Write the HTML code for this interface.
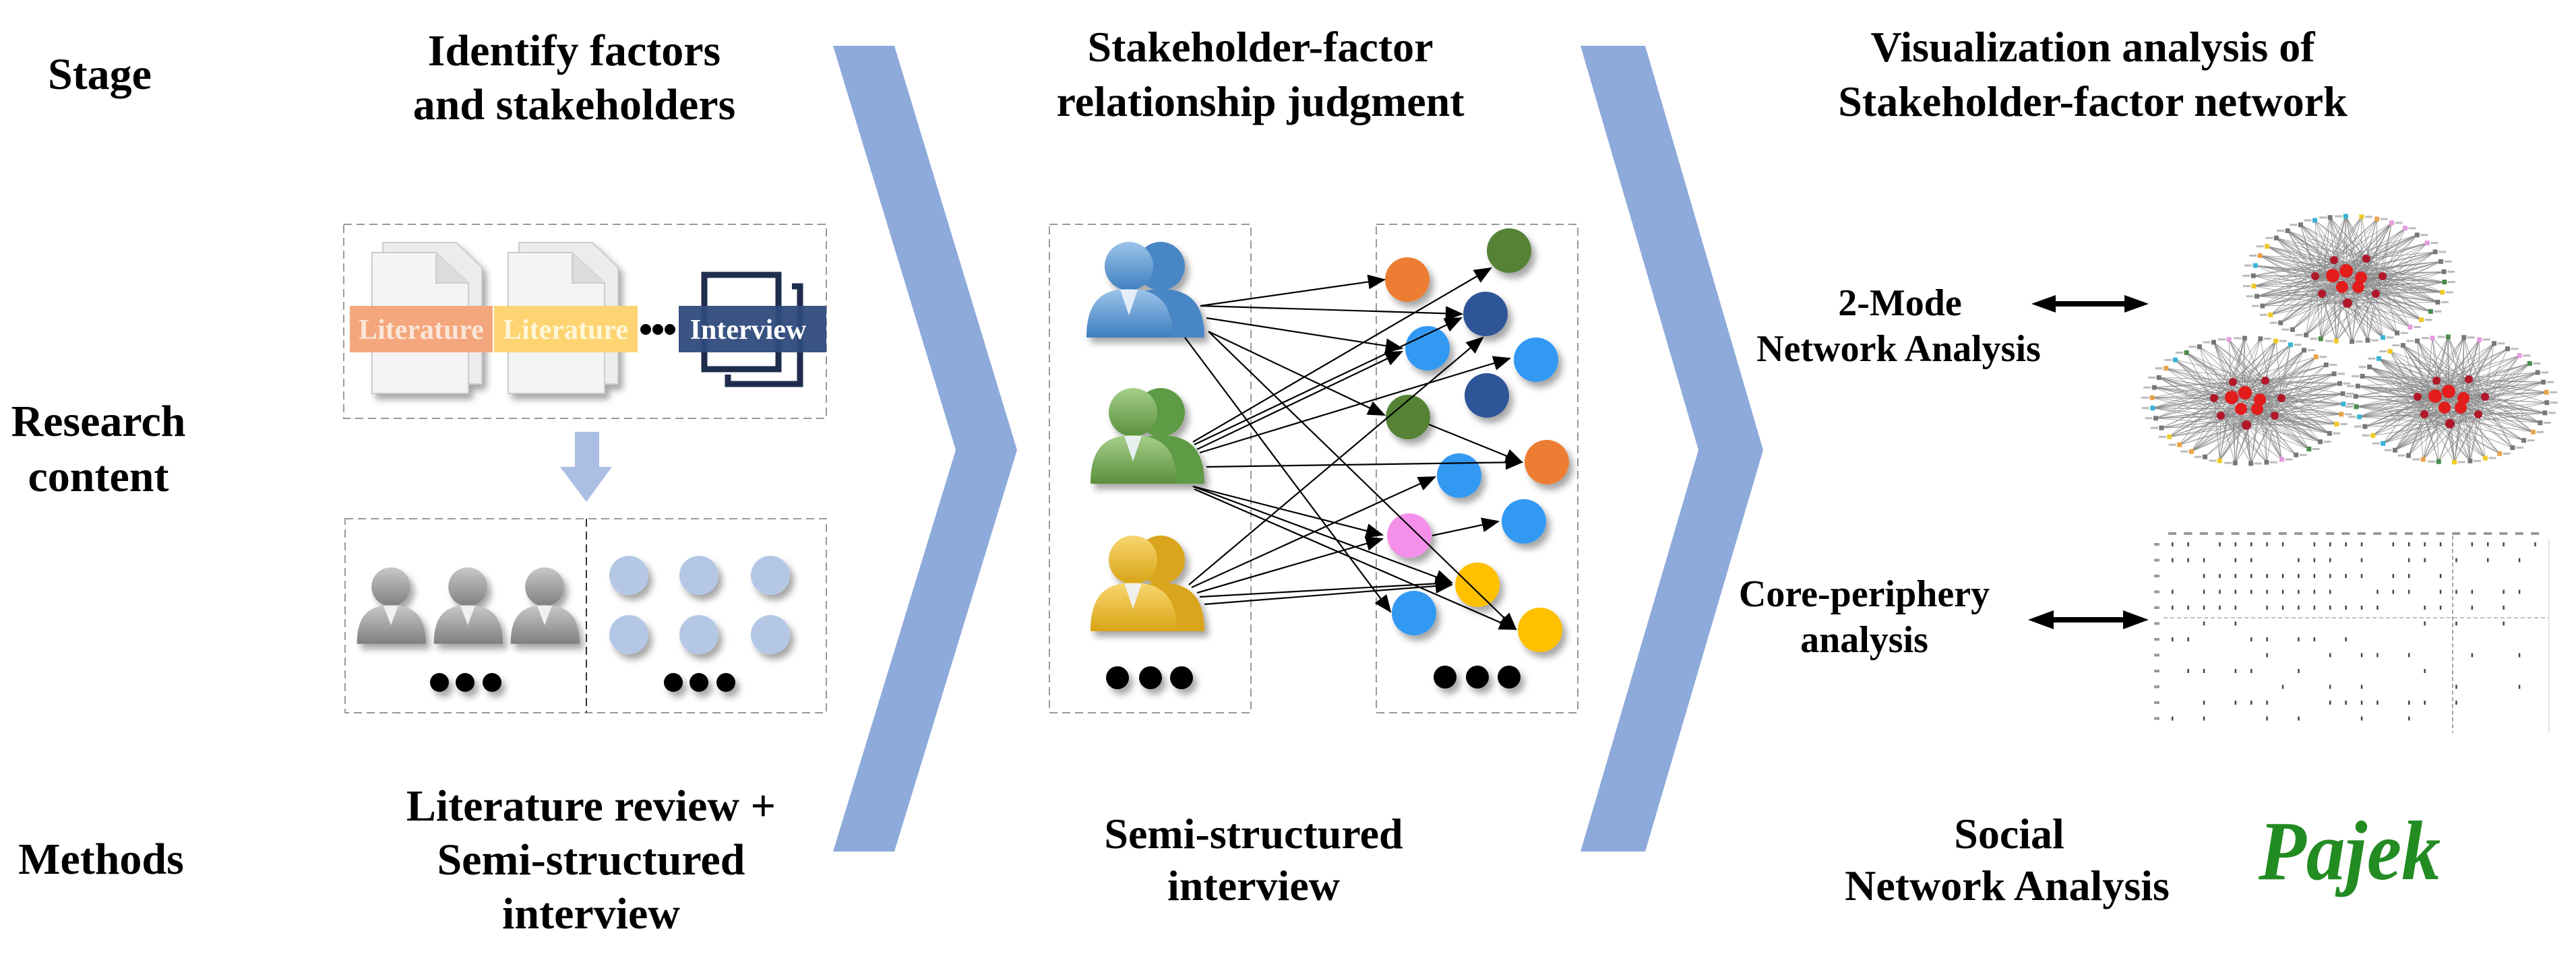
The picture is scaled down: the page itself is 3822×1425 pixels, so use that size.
<!DOCTYPE html>
<html><head><meta charset="utf-8">
<style>
html,body{margin:0;padding:0;background:#fff;}
svg{display:block;}
text{font-family:"Liberation Serif",serif;font-weight:bold;fill:#000;}
</style></head>
<body>
<svg id="s" width="3822" height="1425" viewBox="0 0 3822 1425" xmlns="http://www.w3.org/2000/svg">
<defs>
<marker id="ah" markerWidth="12" markerHeight="10" refX="11" refY="5" orient="auto" markerUnits="strokeWidth">
<path d="M0,0 L12,5 L0,10 Z" fill="#000"/></marker>
<filter id="sh" x="-30%" y="-30%" width="170%" height="170%"><feDropShadow dx="6" dy="8" stdDeviation="5" flood-color="#000" flood-opacity="0.35"/></filter>
<linearGradient id="gb" x1="0" y1="0" x2="0" y2="1"><stop offset="0" stop-color="#9cc3ea"/><stop offset="1" stop-color="#3f7fc0"/></linearGradient>
<linearGradient id="gg" x1="0" y1="0" x2="0" y2="1"><stop offset="0" stop-color="#a6cf8a"/><stop offset="1" stop-color="#5a8f3c"/></linearGradient>
<linearGradient id="gy" x1="0" y1="0" x2="0" y2="1"><stop offset="0" stop-color="#f8d670"/><stop offset="1" stop-color="#d8a414"/></linearGradient>
<linearGradient id="gr" x1="0" y1="0" x2="0" y2="1"><stop offset="0" stop-color="#c8c8c8"/><stop offset="1" stop-color="#808080"/></linearGradient>
<g id="person">
<circle cx="0" cy="0" r="36"/>
<path d="M-63,106 C-63,52 -40,34 0,34 C40,34 65,52 65,106 Z"/>
</g>
</defs>

<polygon points="1236,68 1327,68 1509,668 1327,1264 1236,1264 1418,668" fill="#8eaadb"/>
<polygon points="2345,68 2441,68 2616,668 2441,1264 2345,1264 2520,668" fill="#8eaadb"/>

<text x="148" y="132" font-size="66" text-anchor="middle">Stage</text>
<text x="146" y="647" font-size="66" text-anchor="middle">Research</text>
<text x="146" y="729" font-size="66" text-anchor="middle">content</text>
<text x="150" y="1297" font-size="66" text-anchor="middle">Methods</text>

<text x="852" y="97" font-size="66" text-anchor="middle">Identify factors</text>
<text x="852" y="177" font-size="66" text-anchor="middle">and stakeholders</text>
<text x="1870" y="91" font-size="64" text-anchor="middle">Stakeholder-factor</text>
<text x="1870" y="172" font-size="64" text-anchor="middle">relationship judgment</text>
<text x="3105" y="91" font-size="64" text-anchor="middle">Visualization analysis of</text>
<text x="3105" y="172" font-size="64" text-anchor="middle">Stakeholder-factor network</text>

<text x="877" y="1218" font-size="66" text-anchor="middle">Literature review +</text>
<text x="877" y="1298" font-size="66" text-anchor="middle">Semi-structured</text>
<text x="877" y="1378" font-size="66" text-anchor="middle">interview</text>
<text x="1860" y="1259" font-size="64" text-anchor="middle">Semi-structured</text>
<text x="1860" y="1336" font-size="64" text-anchor="middle">interview</text>

<text x="2819" y="468" font-size="56" text-anchor="middle">2-Mode</text>
<text x="2817" y="536" font-size="56" text-anchor="middle">Network Analysis</text>
<text x="2766" y="900" font-size="56" text-anchor="middle">Core-periphery</text>
<text x="2766" y="968" font-size="56" text-anchor="middle">analysis</text>
<text x="2981" y="1259" font-size="64" text-anchor="middle">Social</text>
<text x="2978" y="1336" font-size="64" text-anchor="middle">Network Analysis</text>
<text x="3486" y="1305" font-size="125" text-anchor="middle" font-style="italic" textLength="270" lengthAdjust="spacingAndGlyphs" style="fill:#228b22;font-family:'Liberation Serif',serif;">Pajek</text>

<g fill="#000">
<rect x="3040" y="447" width="124" height="8"/>
<polygon points="3014,451 3050,438 3050,464"/><polygon points="3188,451 3152,438 3152,464"/>
<rect x="3035" y="916" width="128" height="8"/>
<polygon points="3009,920 3047,906 3047,934"/><polygon points="3188,920 3150,906 3150,934"/>
</g>

<g fill="none" stroke="#999" stroke-width="2" stroke-dasharray="12 7">
<rect x="510" y="333" width="716" height="288"/>
<rect x="512" y="770" width="714" height="288"/>
<line x1="870" y1="770" x2="870" y2="1058" stroke="#333"/>
<rect x="1557" y="333" width="299" height="725"/>
<rect x="2042" y="333" width="299" height="725"/>
</g>
<g filter="url(#sh)">
<g transform="translate(552,375)">
<path d="M16,-15 H125 L163,22 V195 H16 Z" fill="#ececec" stroke="#ccc" stroke-width="2"/>
<path d="M0,0 H95 L143,45 V209 H0 Z" fill="#f4f4f4" stroke="#ccc" stroke-width="2"/>
<path d="M95,0 V45 H143" fill="#dcdcdc" stroke="#ccc" stroke-width="2"/>
</g>
<g transform="translate(754,375)">
<path d="M16,-15 H125 L163,22 V195 H16 Z" fill="#ececec" stroke="#ccc" stroke-width="2"/>
<path d="M0,0 H95 L143,45 V209 H0 Z" fill="#f4f4f4" stroke="#ccc" stroke-width="2"/>
<path d="M95,0 V45 H143" fill="#dcdcdc" stroke="#ccc" stroke-width="2"/>
</g>
</g>
<g fill="none" stroke="#1f2d4d" stroke-width="9">
<rect x="1045" y="408" width="110" height="140"/>
<path d="M1175,425 H1187 V570 H1080 V556"/>
</g>
<rect x="519" y="454" width="212" height="69" fill="#f4a77c"/>
<rect x="733" y="454" width="213" height="69" fill="#fdd471"/>
<rect x="1007" y="454" width="219" height="69" fill="#2e4a7c" opacity="0.95"/>
<text x="625" y="503" font-size="42" text-anchor="middle" style="fill:#fbe6d8">Literature</text>
<text x="839" y="503" font-size="42" text-anchor="middle" style="fill:#fff6d8">Literature</text>
<text x="1110" y="503" font-size="42" text-anchor="middle" style="fill:#fff">Interview</text>
<g fill="#000"><circle cx="958" cy="489" r="8"/><circle cx="976" cy="489" r="8"/><circle cx="994" cy="489" r="8"/></g>

<polygon points="853,641 889,641 889,693 908,693 870,745 831,693 853,693" fill="#aabfe3"/>

<g fill="url(#gr)" filter="url(#sh)">
<use href="#person" transform="translate(580,871) scale(0.8)"/>
<use href="#person" transform="translate(694,871) scale(0.8)"/>
<use href="#person" transform="translate(808,871) scale(0.8)"/>
</g>
<g fill="#f0f0f0"><path d="M569,899 L591,899 L580,928Z"/><path d="M683,899 L705,899 L694,928Z"/><path d="M797,899 L819,899 L808,928Z"/></g>
<g fill="#b4c8e6" filter="url(#sh)">
<circle cx="933" cy="854" r="29"/><circle cx="1037" cy="854" r="29"/><circle cx="1143" cy="854" r="29"/>
<circle cx="933" cy="942" r="29"/><circle cx="1037" cy="942" r="29"/><circle cx="1143" cy="942" r="29"/>
</g>
<g fill="#000" filter="url(#sh)">
<circle cx="652" cy="1013" r="14"/><circle cx="690" cy="1013" r="14"/><circle cx="730" cy="1013" r="14"/>
<circle cx="999" cy="1013" r="14"/><circle cx="1037" cy="1013" r="14"/><circle cx="1077" cy="1013" r="14"/>
<circle cx="1658" cy="1006" r="17"/><circle cx="1707" cy="1006" r="17"/><circle cx="1753" cy="1006" r="17"/>
<circle cx="2144" cy="1005" r="17"/><circle cx="2192" cy="1005" r="17"/><circle cx="2239" cy="1005" r="17"/>
</g>

<g filter="url(#sh)">
<g fill="#4a86c6"><use href="#person" transform="translate(1722,395)"/></g>
<g fill="url(#gb)"><use href="#person" transform="translate(1675,395)"/></g>
<g fill="#5f9a44"><use href="#person" transform="translate(1722,612)"/></g>
<g fill="url(#gg)"><use href="#person" transform="translate(1681,612)"/></g>
<g fill="#d9a51c"><use href="#person" transform="translate(1722,831)"/></g>
<g fill="url(#gy)"><use href="#person" transform="translate(1681,831)"/></g>
</g>
<g fill="#eef4fb" opacity="0.9">
<path d="M1662,430 L1688,430 L1675,468Z"/><path d="M1668,647 L1694,647 L1681,685Z"/><path d="M1668,866 L1694,866 L1681,904Z"/>
</g>

<g filter="url(#sh)">
<circle cx="2088" cy="415" r="33" fill="#ed7d31"/>
<circle cx="2239" cy="372" r="33" fill="#548235"/>
<circle cx="2204" cy="466" r="33" fill="#2f5597"/>
<circle cx="2118" cy="517" r="33" fill="#3399f3"/>
<circle cx="2279" cy="534" r="33" fill="#3399f3"/>
<circle cx="2206" cy="587" r="33" fill="#2f5597"/>
<circle cx="2089" cy="619" r="33" fill="#548235"/>
<circle cx="2295" cy="686" r="33" fill="#ed7d31"/>
<circle cx="2165" cy="706" r="33" fill="#3399f3"/>
<circle cx="2261" cy="774" r="33" fill="#3399f3"/>
<circle cx="2091" cy="795" r="33" fill="#f590ea"/>
<circle cx="2192" cy="868" r="33" fill="#ffc000"/>
<circle cx="2098" cy="910" r="33" fill="#3399f3"/>
<circle cx="2285" cy="935" r="33" fill="#ffc000"/>
</g>

<g stroke="#000" stroke-width="2.2" fill="none" marker-end="url(#ah)">
<line x1="1781" y1="454" x2="2054" y2="415"/>
<line x1="1781" y1="454" x2="2169" y2="466"/>
<line x1="1790" y1="472" x2="2080" y2="517"/>
<line x1="1793" y1="492" x2="2054" y2="616"/>
<line x1="1793" y1="492" x2="2249" y2="934"/>
<line x1="1758" y1="501" x2="2063" y2="908"/>
<line x1="1770" y1="656" x2="2212" y2="398"/>
<line x1="1772" y1="660" x2="2168" y2="472"/>
<line x1="1776" y1="667" x2="2080" y2="522"/>
<line x1="1780" y1="672" x2="2240" y2="532"/>
<line x1="1790" y1="693" x2="2258" y2="686"/>
<line x1="1770" y1="722" x2="2051" y2="794"/>
<line x1="1770" y1="722" x2="2154" y2="865"/>
<line x1="1772" y1="726" x2="2249" y2="934"/>
<line x1="1764" y1="868" x2="2200" y2="501"/>
<line x1="1768" y1="872" x2="2129" y2="708"/>
<line x1="1776" y1="880" x2="2051" y2="800"/>
<line x1="1780" y1="886" x2="2154" y2="865"/>
<line x1="1787" y1="897" x2="2154" y2="868"/>
<line x1="2120" y1="630" x2="2258" y2="686"/>
<line x1="2125" y1="795" x2="2223" y2="774"/>
</g>

<g id="nets"></g>
<g id="mat"></g>
</svg>
<script>
(function(){
var NS="http://www.w3.org/2000/svg";
function el(p,t,a){var e=document.createElementNS(NS,t);for(var k in a)e.setAttribute(k,a[k]);p.appendChild(e);return e;}
var nets=document.getElementById("nets");
var seed=7;function rnd(){seed=(seed*9301+49297)%233280;return seed/233280;}
var cols=["#777","#777","#3bb3d6","#f0c92a","#777","#4a8a4a","#e8a34a","#e79ae0","#777"];
function net(cx,cy){
 var g=el(nets,"g",{});
 var inner=[];
 var ip=[[-24,-5,10],[-4,-12,10],[18,-2,9],[-10,12,9],[14,12,9],[-50,-4,6],[50,-4,6],[-40,22,6],[40,22,6],[-2,36,7],[-22,-28,6],[26,-30,6]];
 ip.forEach(function(p){inner.push([cx+p[0],cy+p[1],p[2]]);});
 var N=38;
 for(var i=0;i<N;i++){
  var a=i/N*2*Math.PI+0.05;
  var ox=cx+Math.cos(a)*142, oy=cy+Math.sin(a)*93;
  for(var j=0;j<inner.length;j++){ if(rnd()<0.6) el(g,"line",{x1:ox,y1:oy,x2:inner[j][0],y2:inner[j][1],stroke:"#888","stroke-width":0.9,opacity:0.85}); }
  el(g,"rect",{x:ox-3.5,y:oy-3.5,width:7,height:7,fill:cols[Math.floor(rnd()*cols.length)]});
  el(g,"rect",{x:ox+(Math.cos(a)>0?5:-16),y:oy-1.5,width:11,height:3,fill:"#bbb"});
 }
 inner.forEach(function(p){el(g,"circle",{cx:p[0],cy:p[1],r:p[2],fill:p[2]>8?"#e31c1c":"#b0182a"});});
}
net(3485,414);net(3335,595);net(3637,593);
var m=document.getElementById("mat");
var x0=3222,y0=808,dx=23.4,dy=23.5;
for(var c=0;c<24;c++) el(m,"rect",{x:x0+c*dx-5,y:790,width:12,height:4,fill:"#999"});
for(var r=0;r<12;r++){
 el(m,"rect",{x:3196,y:y0+r*dy-2,width:8,height:4,fill:"#999"});
 for(var c=0;c<24;c++){
  var p=r<5?(c<18?0.8:0.45):(c<18?0.28:0.05);
  if(rnd()<p) el(m,"rect",{x:x0+c*dx,y:y0+r*dy-3,width:2.5,height:6,fill:"#444"});
 }
}
el(m,"line",{x1:3210,y1:917,x2:3782,y2:917,stroke:"#aaa","stroke-width":1.5,"stroke-dasharray":"6 4"});
el(m,"line",{x1:3639,y1:795,x2:3639,y2:1088,stroke:"#888","stroke-width":1.5,"stroke-dasharray":"6 4"});
el(m,"line",{x1:3782,y1:800,x2:3782,y2:1088,stroke:"#ddd","stroke-width":1.5});
})();
</script>
</body></html>
